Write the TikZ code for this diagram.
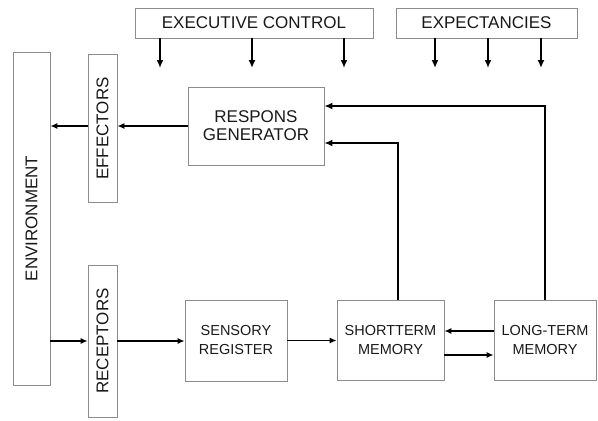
\documentclass[tikz,border=0pt]{standalone}
\usepackage{fontspec}
\setmainfont{Liberation Sans}
\usepackage{tikz}
\usetikzlibrary{arrows.meta, positioning}

\begin{document}
\begin{tikzpicture}[x=1pt, y=-1pt,
        box/.style={draw=black!45, line width=0.8pt, inner sep=0pt, align=center, text=black!90},
        big/.style={font=\fontsize{17}{18}\selectfont},
        small/.style={font=\fontsize{14.5}{19}\selectfont},
        arr/.style={line width=1.3pt, -{Latex[length=7pt, width=6pt]}},
        fb/.style={line width=2pt, -{Latex[length=8pt, width=7pt]}}]
        \useasboundingbox (0,0) rectangle (598,421);

        \node[box, big, minimum width=238pt, minimum height=30pt] (exec) at (254, 23) {EXECUTIVE CONTROL};
        \node[box, big, minimum width=181pt, minimum height=30pt] (expect) at (486.5, 23) {EXPECTANCIES};
        \node[box, big, minimum width=333pt, minimum height=37pt, rotate=90] (env) at (31.5, 218.5) {ENVIRONMENT};
        \node[box, big, minimum width=148pt, minimum height=29pt, rotate=90] (eff) at (102.5, 128.5) {EFFECTORS};
        \node[box, big, minimum width=152pt, minimum height=29pt, rotate=90] (rec) at (102.5, 341) {RECEPTORS};
        \node[box, big, minimum width=136pt, minimum height=78pt] (resp) at (256, 126) {RESPONS\\GENERATOR};
        \node[box, small, minimum width=102pt, minimum height=81pt] (sens) at (236, 340.5) {SENSORY\\REGISTER};
        \node[box, small, minimum width=107pt, minimum height=80pt] (stm) at (390.5, 340) {SHORTTERM\\MEMORY};
        \node[box, small, minimum width=102pt, minimum height=80pt] (ltm) at (545, 340) {LONG-TERM\\MEMORY};

        % control arrows from the top
        \foreach \x [count=\i] in {160, 252, 344} {
            \coordinate (ec\i) at (\x, 68);
            \draw[fb] (exec.south -| ec\i) -- (ec\i);
        }
        \foreach \x [count=\i] in {435, 488, 541} {
            \coordinate (ex\i) at (\x, 68);
            \draw[fb] (expect.south -| ex\i) -- (ex\i);
        }

        % rotated boxes: north is their left side, south their right side
        \draw[arr] (resp.west) -- (eff.south |- resp.west);
        \draw[arr] (eff.north |- resp.west) -- (env.south |- resp.west);
        \draw[arr] (env.south |- rec.north) -- (rec.north);
        \draw[arr] (rec.south) -- (sens.west |- rec.south);
        \draw[arr] (sens.east) -- (stm.west |- sens.east);
        \draw[arr] ([yshift=9pt]ltm.west) -- ([yshift=9pt]stm.east);
        \draw[arr] ([yshift=-15pt]stm.east) -- ([yshift=-15pt]ltm.west);

        % feedback to the response generator
        \draw[fb] ([xshift=7.5pt]stm.north) |- ([yshift=-17pt]resp.east);
        \draw[fb] (ltm.north) |- ([yshift=20pt]resp.east);
    \end{tikzpicture}
\end{document}
